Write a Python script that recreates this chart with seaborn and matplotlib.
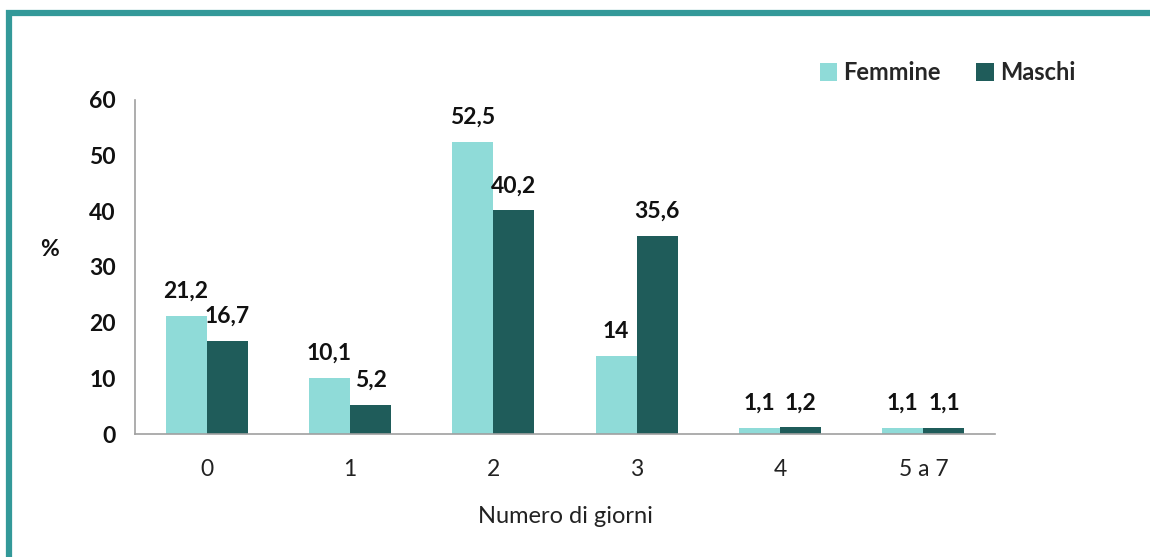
import numpy as np
import pandas as pd
import seaborn as sns
import matplotlib.pyplot as plt
from matplotlib.patches import Rectangle

# data
giorni = ["0", "1", "2", "3", "4", "5 a 7"]
femmine = [21.2, 10.1, 52.5, 14, 1.1, 1.1]
maschi = [16.7, 5.2, 40.2, 35.6, 1.2, 1.1]
sessi = ["Femmine", "Maschi"]

df = pd.DataFrame({
    "giorni": giorni * 2,
    "valore": femmine + maschi,
    "sesso": [sessi[0]] * len(giorni) + [sessi[1]] * len(giorni),
})

sns.set_style("white")
plt.rcParams['font.family'] = ['Lato', 'DejaVu Sans']

fig = plt.figure(figsize=(11.5, 5.57), dpi=100)
ax = fig.add_axes([0.1174, 0.2208, 0.7478, 0.5997])

sns.barplot(data=df, x="giorni", y="valore", hue="sesso",
            palette=["#8FDBD8", "#1F5C5A"], width=0.574,
            saturation=1, linewidth=0, ax=ax, legend=True)

for cont in ax.containers:
    labels = [f"{v:g}".replace(".", ",") for v in cont.datavalues]
    ax.bar_label(cont, labels=labels, padding=10, fontsize=16.5,
                 fontweight="bold", color="#111111")

ax.set_ylim(0, 60)
ax.set_yticks(range(0, 61, 10))
ax.set_xlim(-0.5, 5.5)
ax.set_xticks(np.arange(-0.5, 6, 1), minor=True)
ax.tick_params(axis="x", which="major", length=0, pad=18, labelsize=16.5,
               labelcolor="#222222")
ax.tick_params(axis="x", which="minor", length=6, color="#A0A0A0", direction="out")
ax.tick_params(axis="y", length=6, color="#A0A0A0", direction="out",
               labelsize=16.5, labelcolor="#111111", pad=8)
for lab in ax.get_yticklabels():
    lab.set_fontweight("bold")

for s in ["top", "right"]:
    ax.spines[s].set_visible(False)
for s in ["left", "bottom"]:
    ax.spines[s].set_color("#A0A0A0")
    ax.spines[s].set_linewidth(1.2)

ax.set_xlabel("Numero di giorni", fontsize=17, color="#222222", labelpad=19)
ax.set_ylabel("%", fontsize=16.5, fontweight="bold", rotation=0, color="#111111",
              labelpad=0)
ax.yaxis.set_label_coords(-0.1, 0.52)

leg = ax.legend(loc="upper right", bbox_to_anchor=(1.118, 1.18), ncol=2,
                frameon=False, handlelength=0.75, handleheight=0.75,
                handletextpad=0.25, columnspacing=1.5,
                prop={"weight": "bold", "size": 17})

# teal frame at top and left
fig.patches.append(Rectangle((9 / 1150, -0.1), 1.2, 1.1 - 12.5 / 557,
                             transform=fig.transFigure, fill=False,
                             edgecolor="#339999", linewidth=4.5))

fig.savefig("out.png", dpi=100)
